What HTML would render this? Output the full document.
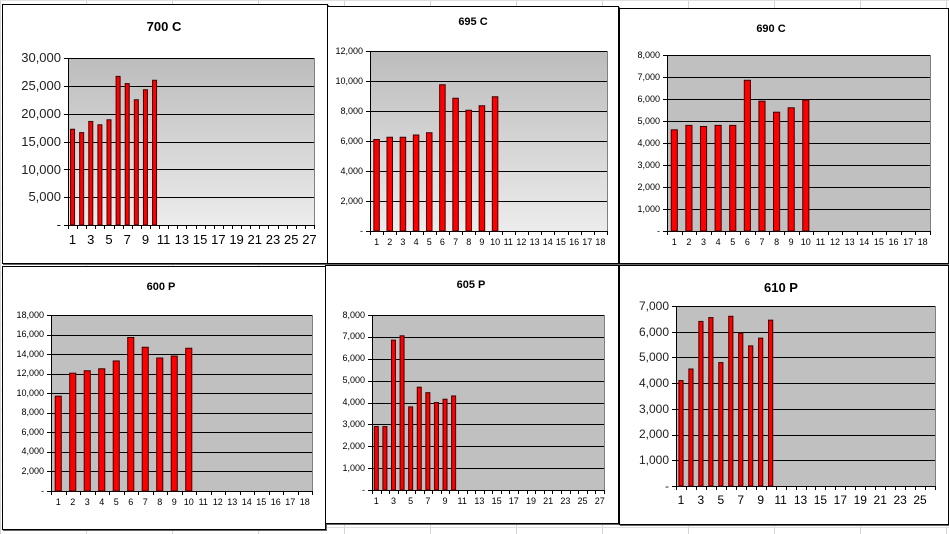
<!DOCTYPE html>
<html><head><meta charset="utf-8"><style>
body{margin:0;width:949px;height:534px;background:#fff;position:relative;overflow:hidden;font-family:"Liberation Sans",Arial,sans-serif}
.c{position:absolute;border:1px solid #000;background:#fff;box-shadow:1px 1px 0 #666}
.c span{position:absolute;white-space:nowrap;color:#000}
.t{font-weight:bold}
svg{position:absolute;left:0;top:0}
</style></head><body>
<svg id="bg" width="949" height="534"></svg>
<div class="c" id="c1"><span class="t">700 C</span><div class="y"><span>-</span><span>5,000</span><span>10,000</span><span>15,000</span><span>20,000</span><span>25,000</span><span>30,000</span></div><div class="x"><span>1</span><span>3</span><span>5</span><span>7</span><span>9</span><span>11</span><span>13</span><span>15</span><span>17</span><span>19</span><span>21</span><span>23</span><span>25</span><span>27</span></div></div>
<div class="c" id="c2"><span class="t">695 C</span><div class="y"><span>-</span><span>2,000</span><span>4,000</span><span>6,000</span><span>8,000</span><span>10,000</span><span>12,000</span></div><div class="x"><span>1</span><span>2</span><span>3</span><span>4</span><span>5</span><span>6</span><span>7</span><span>8</span><span>9</span><span>10</span><span>11</span><span>12</span><span>13</span><span>14</span><span>15</span><span>16</span><span>17</span><span>18</span></div></div>
<div class="c" id="c3"><span class="t">690 C</span><div class="y"><span>-</span><span>1,000</span><span>2,000</span><span>3,000</span><span>4,000</span><span>5,000</span><span>6,000</span><span>7,000</span><span>8,000</span></div><div class="x"><span>1</span><span>2</span><span>3</span><span>4</span><span>5</span><span>6</span><span>7</span><span>8</span><span>9</span><span>10</span><span>11</span><span>12</span><span>13</span><span>14</span><span>15</span><span>16</span><span>17</span><span>18</span></div></div>
<div class="c" id="c4"><span class="t">600 P</span><div class="y"><span>-</span><span>2,000</span><span>4,000</span><span>6,000</span><span>8,000</span><span>10,000</span><span>12,000</span><span>14,000</span><span>16,000</span><span>18,000</span></div><div class="x"><span>1</span><span>2</span><span>3</span><span>4</span><span>5</span><span>6</span><span>7</span><span>8</span><span>9</span><span>10</span><span>11</span><span>12</span><span>13</span><span>14</span><span>15</span><span>16</span><span>17</span><span>18</span></div></div>
<div class="c" id="c5"><span class="t">605 P</span><div class="y"><span>-</span><span>1,000</span><span>2,000</span><span>3,000</span><span>4,000</span><span>5,000</span><span>6,000</span><span>7,000</span><span>8,000</span></div><div class="x"><span>1</span><span>3</span><span>5</span><span>7</span><span>9</span><span>11</span><span>13</span><span>15</span><span>17</span><span>19</span><span>21</span><span>23</span><span>25</span><span>27</span></div></div>
<div class="c" id="c6"><span class="t">610 P</span><div class="y"><span>-</span><span>1,000</span><span>2,000</span><span>3,000</span><span>4,000</span><span>5,000</span><span>6,000</span><span>7,000</span></div><div class="x"><span>1</span><span>3</span><span>5</span><span>7</span><span>9</span><span>11</span><span>13</span><span>15</span><span>17</span><span>19</span><span>21</span><span>23</span><span>25</span></div></div>
<script>
var NS="http://www.w3.org/2000/svg";
var bg=document.getElementById('bg');
function el(p,n,a){var e=document.createElementNS(NS,n);for(var k in a)e.setAttribute(k,a[k]);p.appendChild(e);return e;}
for(var x=0;x<949;x+=86)el(bg,'line',{x1:x+.5,y1:0,x2:x+.5,y2:534,stroke:'#d4d4d4'});
for(var y=0;y<534;y+=17)el(bg,'line',{x1:0,y1:y+.5,x2:949,y2:y+.5,stroke:'#e0e0e0'});
var C=[
{id:'c1',f:[2,4,324,258],p:[68,58,314,225],n:7,cats:27,ev:2,fs:13,tfs:13,tt:[163,26],g:1,v:[17200,16600,18600,18000,18900,26700,25400,22500,24300,26000],max:30000},
{id:'c2',f:[327,6,290,256],p:[370,51,607,231],n:7,cats:18,ev:1,fs:9,tfs:11,tt:[472,22],g:1,v:[6100,6250,6250,6400,6550,9750,8850,8050,8350,8950],max:12000},
{id:'c3',f:[619,8,328,254],p:[667,55,930,231],n:9,cats:18,ev:1,fs:9,tfs:11,tt:[770,29],g:0,v:[4600,4800,4750,4800,4800,6850,5900,5400,5600,5950],max:8000},
{id:'c4',f:[2,266,322,262],p:[51,315,312,491],n:10,cats:18,ev:1,fs:9,tfs:11,tt:[160,287],g:0,v:[9700,12050,12300,12500,13300,15700,14700,13600,13800,14600],max:18000},
{id:'c5',f:[325,265,292,257],p:[372,315,604,490],n:9,cats:27,ev:2,fs:9,tfs:11,tt:[470,285],g:0,v:[2900,2900,6850,7050,3800,4700,4450,4000,4150,4300],max:8000},
{id:'c6',f:[619,265,328,258],p:[676,306,935,486],n:8,cats:26,ev:2,fs:12,tfs:13,tt:[780,287],g:0,v:[4100,4550,6400,6550,4800,6600,5950,5450,5750,6450],max:7000}
];
C.forEach(function(c,ci){
var d=document.getElementById(c.id),F=c.f;
d.style.left=F[0]+'px';d.style.top=F[1]+'px';d.style.width=F[2]+'px';d.style.height=F[3]+'px';
var px=c.p[0]-F[0]-1,py=c.p[1]-F[1]-1,pw=c.p[2]-c.p[0],ph=c.p[3]-c.p[1];
var s=el(d,'svg',{width:F[2],height:F[3]});d.insertBefore(s,d.firstChild);
var fill='#c0c0c0';
if(c.g){var df=el(s,'defs',{});var lg=el(df,'linearGradient',{id:'g'+ci,x1:0,y1:0,x2:0,y2:1});el(lg,'stop',{offset:0,'stop-color':'#bcbcbc'});el(lg,'stop',{offset:1,'stop-color':'#ececec'});fill='url(#g'+ci+')';}
el(s,'rect',{x:px+.5,y:py+.5,width:pw,height:ph,fill:fill,stroke:'#808080'});
var sp=ph/(c.n-1);
for(var i=1;i<c.n-1+1;i++){var yy=Math.round(py+ph-i*sp)+.5;el(s,'line',{x1:px,y1:yy,x2:px+pw,y2:yy,stroke:'#000'});}
el(s,'line',{x1:px+.5,y1:py,x2:px+.5,y2:py+ph+.5,stroke:'#000'});
el(s,'line',{x1:px,y1:py+ph+.5,x2:px+pw,y2:py+ph+.5,stroke:'#000'});
var cw=pw/c.cats;
for(var k=0;k<=c.cats;k++){var xx=Math.round(px+k*cw)+.5;el(s,'line',{x1:xx,y1:py+ph,x2:xx,y2:py+ph+4,stroke:'#000'});}
for(var i=0;i<c.n;i++){var yy=Math.round(py+ph-i*sp)+.5;el(s,'line',{x1:px-4,y1:yy,x2:px,y2:yy,stroke:'#000'});}
var bw=Math.max(4,cw*0.42);
c.v.forEach(function(v,j){var h=v/c.max*ph;var bx=px+j*cw+(cw-bw)/2;el(s,'rect',{x:bx,y:py+ph-h,width:bw,height:h,fill:'#ff0000',stroke:'#400000','stroke-width':1});});
var t=d.querySelector('.t');t.style.fontSize=c.tfs+'px';t.style.left=(c.tt[0]-F[0]-30)+'px';t.style.width='60px';t.style.textAlign='center';t.style.top=(c.tt[1]-F[1]-c.tfs/2-2)+'px';
d.querySelectorAll('.y span').forEach(function(e,i){e.style.fontSize=c.fs+'px';e.style.right=(F[2]-px+7)+'px';e.style.top=(py+ph-i*sp-c.fs*0.6)+'px';if(c.fs>10)e.style.color='#222';});
d.querySelectorAll('.x span').forEach(function(e,i){e.style.fontSize=c.fs+'px';var cx=px+(i*c.ev+0.5)*cw;e.style.left=(cx-15)+'px';e.style.width='30px';e.style.textAlign='center';e.style.top=(py+ph+(c.fs>10?7:6))+'px';});
});
</script>
</body></html>
